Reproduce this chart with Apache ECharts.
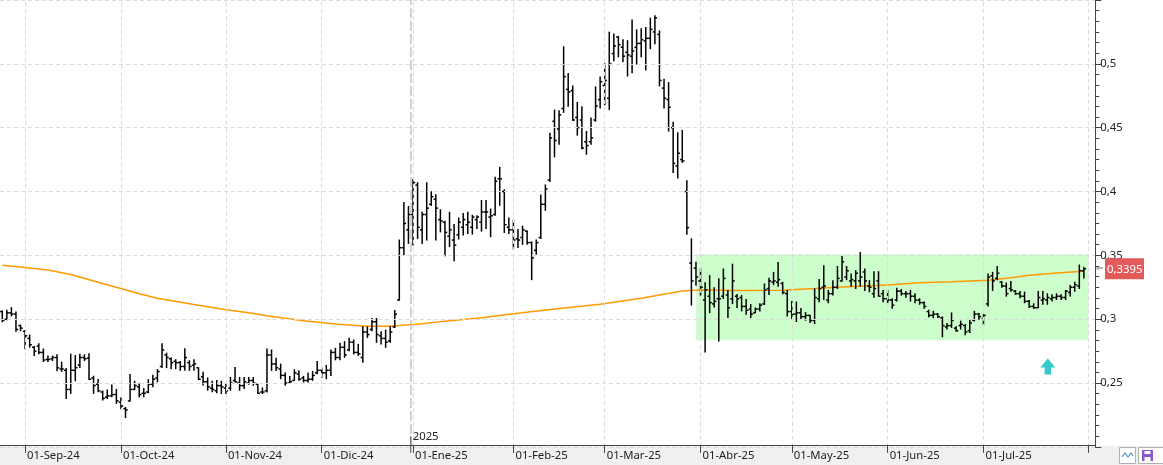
<!DOCTYPE html>
<html>
<head>
<meta charset="utf-8">
<script src="https://cdn.jsdelivr.net/npm/echarts@6/dist/echarts.min.js"></script>
<style>
html,body{margin:0;padding:0;background:#fff;}
#c{width:1163px;height:465px;}
</style>
</head>
<body>
<div id="c"></div>
<script>
// ---------- DATA ----------
const startDate = '2024-08-26';
const endDate = '2025-08-04';
const holidays = ['2024-12-25','2024-12-26','2025-01-01','2025-04-18','2025-04-21','2025-05-01'];
const monthNames = ['Ene','Feb','Mar','Abr','May','Jun','Jul','Ago','Sep','Oct','Nov','Dic'];

const opens = [
.306,.300,.305,.304,.2950,.2905,.2850,.2780,.2790,.2740,
.2685,.2690,.2700,.2610,.2600,.2450,.2600,.2640,.2700,.2695,
.2540,.2490,.2430,.2390,.2400,.2410,.2350,.2300,.2360,.2450,
.2470,.2420,.2430,.2490,.2540,.2630,.2720,.2690,.2670,.2660,
.2630,.2660,.2640,.2620,.2550,.2510,.2460,.2440,.2480,.2460,
.2460,.2520,.2500,.2480,.2500,.2520,.2490,.2430,.2440,.2720,
.2650,.2610,.2560,.2500,.2520,.2570,.2540,.2520,.2530,.2580,
.2600,.2580,.2600,.2740,.2700,.2780,.2760,.2820,.2740,.2700,
.2900,.2920,.2980,.2870,.2850,.2830,.2940,.3150,.3560,.3700,
.3820,.4050,.3700,.3820,.3900,.3940,.3780,.3760,.3650,.3620,
.3660,.3720,.3740,.3720,.3780,.3760,.3840,.3800,.3820,.4100,
.4000,.3720,.3700,.3630,.3640,.3690,.3600,.3540,.3640,.3900,
.4090,.4550,.4490,.4650,.4800,.4790,.4580,.4560,.4390,.4390,
.4560,.4720,.4830,.4730,.5080,.5210,.5130,.5090,.5060,.5130,
.5160,.5180,.5200,.5250,.5230,.4810,.4720,.4500,.4200,.4250,
.4000,.3440,.3400,.3300,.3150,.3180,.3120,.3160,.3180,.3190,
.3160,.3180,.3170,.3100,.3080,.3050,.3080,.3120,.3240,.3290,
.3290,.3280,.3200,.3060,.3040,.3050,.3020,.3030,.2990,.3160,
.3250,.3150,.3200,.3250,.3300,.3330,.3300,.3300,.3300,.3370,
.3260,.3200,.3300,.3200,.3160,.3150,.3150,.3220,.3200,.3200,
.3180,.3150,.3130,.3060,.3030,.3040,.3010,.2940,.2950,.2930,
.2950,.2950,.2910,.2990,.3040,.3000,.3120,.3340,.3320,.3290,
.3260,.3240,.3220,.3200,.3180,.3140,.3100,.3090,.3150,.3150,
.3160,.3170,.3180,.3170,.3210,.3250,.3260,.3380
];
const highs = [
.3069,.3075,.3094,.3061,.2958,.2914,.2880,.2790,.2811,.2770,
.2715,.2715,.2725,.2668,.2617,.2730,.2720,.2730,.2725,.2733,
.2557,.2531,.2441,.2449,.2488,.2454,.2389,.2312,.2570,.2518,
.2497,.2462,.2531,.2565,.2609,.2811,.2738,.2700,.2687,.2673,
.2772,.2679,.2687,.2622,.2588,.2544,.2518,.2523,.2518,.2492,
.2548,.2626,.2548,.2548,.2548,.2548,.2492,.2466,.2771,.2763,
.2698,.2652,.2582,.2556,.2608,.2600,.2556,.2582,.2595,.2673,
.2621,.2642,.2763,.2776,.2815,.2828,.2854,.2841,.2807,.2944,
.2944,.3009,.3009,.2905,.2918,.2944,.3073,.3624,.3918,.3887,
.4099,.4073,.3841,.4073,.4003,.3978,.3861,.3771,.3841,.3746,
.3797,.3831,.3841,.3818,.3815,.3934,.3934,.3867,.4115,.4193,
.4017,.3797,.3779,.3707,.3733,.3694,.3609,.3624,.3976,.4056,
.4461,.4642,.4637,.5138,.4929,.4831,.4702,.4668,.4474,.4580,
.4823,.4901,.5004,.5252,.5237,.5219,.5193,.5185,.5348,.5270,
.5278,.5288,.5361,.5381,.5262,.4883,.4857,.4547,.4464,.4482,
.4089,.3634,.3450,.3402,.3290,.3345,.3250,.3320,.3397,.3229,
.3435,.3198,.3190,.3159,.3118,.3092,.3125,.3280,.3324,.3371,
.3448,.3293,.3229,.3143,.3138,.3087,.3056,.3035,.3242,.3314,
.3423,.3229,.3306,.3417,.3500,.3417,.3358,.3384,.3526,.3397,
.3306,.3376,.3376,.3229,.3229,.3164,.3247,.3237,.3221,.3229,
.3203,.3164,.3138,.3074,.3066,.3048,.3022,.2970,.3053,.2945,
.2989,.2963,.2996,.3066,.3048,.3040,.3358,.3371,.3417,.3299,
.3288,.3299,.3229,.3221,.3216,.3151,.3125,.3221,.3221,.3203,
.3195,.3203,.3195,.3229,.3268,.3293,.3428,.3410
];
const lows = [
.2976,.2991,.3022,.2901,.2906,.2764,.2777,.2712,.2725,.2665,
.2665,.2673,.2592,.2588,.2376,.2415,.2514,.2617,.2673,.2525,
.2415,.2428,.2363,.2376,.2389,.2337,.2294,.2226,.2355,.2445,
.2389,.2389,.2420,.2467,.2506,.2617,.2617,.2609,.2609,.2596,
.2596,.2596,.2596,.2523,.2480,.2441,.2428,.2420,.2414,.2415,
.2440,.2505,.2440,.2453,.2487,.2479,.2414,.2414,.2427,.2595,
.2595,.2530,.2479,.2492,.2518,.2518,.2505,.2505,.2518,.2569,
.2543,.2530,.2556,.2678,.2678,.2698,.2750,.2724,.2712,.2660,
.2854,.2905,.2815,.2802,.2776,.2815,.2931,.3145,.3500,.3590,
.3577,.3629,.3590,.3616,.3887,.3616,.3680,.3494,.3565,.3454,
.3624,.3655,.3668,.3663,.3707,.3686,.3707,.3642,.3810,.3888,
.3676,.3668,.3547,.3557,.3583,.3583,.3306,.3505,.3629,.3849,
.4074,.4268,.4366,.4616,.4663,.4554,.4438,.4332,.4288,.4366,
.4547,.4650,.4676,.4637,.5020,.5051,.5012,.4901,.4927,.4994,
.5051,.4947,.5115,.5154,.4823,.4650,.4469,.4146,.4102,.4224,
.3661,.3107,.3262,.3185,.2740,.3048,.3092,.2825,.3159,.3009,
.3118,.3087,.3061,.3035,.3009,.3048,.3061,.3112,.3190,.3267,
.3255,.3195,.3022,.2996,.2978,.2996,.2988,.2970,.2962,.3133,
.3151,.3125,.3185,.3237,.3293,.3306,.3255,.3237,.3255,.3221,
.3211,.3169,.3177,.3133,.3125,.3082,.3138,.3185,.3169,.3138,
.3125,.3113,.3082,.3014,.3009,.3009,.2859,.2919,.2932,.2901,
.2919,.2875,.2893,.2983,.2996,.2952,.3100,.3221,.3306,.3247,
.3177,.3216,.3190,.3164,.3125,.3087,.3082,.3087,.3113,.3113,
.3138,.3151,.3151,.3151,.3177,.3216,.3237,.3319
];
const closes = [
.299,.305,.304,.292,.2930,.2870,.2800,.2750,.2740,.2680,
.2685,.2700,.2620,.2610,.2450,.2600,.2620,.2700,.2690,.2530,
.2480,.2440,.2380,.2400,.2410,.2360,.2320,.2290,.2450,.2480,
.2410,.2420,.2490,.2530,.2590,.2760,.2700,.2660,.2660,.2630,
.2700,.2630,.2650,.2530,.2510,.2470,.2450,.2480,.2470,.2440,
.2500,.2510,.2480,.2510,.2520,.2500,.2420,.2430,.2720,.2650,
.2620,.2560,.2500,.2510,.2580,.2530,.2520,.2530,.2560,.2600,
.2580,.2600,.2740,.2700,.2780,.2720,.2820,.2740,.2730,.2900,
.2880,.2980,.2880,.2850,.2820,.2900,.3040,.3560,.3750,.3820,
.4070,.3720,.3820,.3870,.3960,.3870,.3770,.3680,.3700,.3580,
.3760,.3780,.3760,.3800,.3800,.3840,.3840,.3810,.4080,.4100,
.3740,.3700,.3620,.3620,.3700,.3600,.3480,.3600,.3900,.4020,
.4420,.4400,.4600,.4900,.4780,.4560,.4500,.4340,.4360,.4420,
.4670,.4860,.4870,.5000,.5140,.5150,.5060,.5070,.5100,.5160,
.5190,.5200,.5270,.5360,.4870,.4730,.4660,.4220,.4300,.4240,
.3717,.3300,.3330,.3250,.3230,.3130,.3140,.3160,.3320,.3090,
.3300,.3160,.3100,.3070,.3040,.3080,.3110,.3230,.3300,.3300,
.3310,.3210,.3060,.3040,.3050,.3020,.3030,.2990,.3170,.3240,
.3260,.3200,.3250,.3320,.3450,.3380,.3310,.3360,.3330,.3300,
.3250,.3240,.3180,.3160,.3150,.3110,.3220,.3200,.3200,.3180,
.3150,.3130,.3100,.3030,.3040,.3020,.2950,.2950,.2990,.2910,
.2960,.2900,.2970,.3040,.3020,.3030,.3330,.3300,.3360,.3260,
.3200,.3230,.3200,.3180,.3140,.3100,.3090,.3170,.3160,.3170,
.3170,.3180,.3170,.3220,.3250,.3270,.3380,.3395
];
// moving average (read at sampled bars)
const maIdx = [0,4,10,15,20,26,30,34,42,49,54,58,66,73,80,84,87,92,97,105,112,121,131,140,149,153,162,171,178,185,190,194,201,208,216,221,225,231,237];
const maVal = [.3422,.3409,.3385,.3350,.3300,.3241,.3200,.3164,.3115,.3074,.3050,.3027,.2988,.2962,.2944,.2944,.2950,.2965,.2985,.3012,.3043,.3080,.3117,.3165,.3221,.3229,.3225,.3226,.3240,.3255,.3262,.3268,.3285,.3293,.3306,.3325,.3345,.3362,.3376];
// zone and arrow annotation (bar index / price)
const zoneX = [152, 238];
const zoneY = [0.3508, 0.2836];
const arrowAt = [229.1, 0.2629];
const yTicks = {min:0.2, max:0.55, step:0.05};

// ---------- BUILD ----------
const FONT = '"Noto Sans", "DejaVu Sans", sans-serif';
const FS = 11.3;
const dates = [];
{
  const hol = new Set(holidays);
  let d = new Date(startDate + 'T00:00:00Z');
  const e = new Date(endDate + 'T00:00:00Z');
  while (d <= e) {
    const wd = d.getUTCDay();
    const s = d.toISOString().slice(0,10);
    if (wd !== 0 && wd !== 6 && !hol.has(s)) dates.push(s);
    d = new Date(d.getTime() + 86400000);
  }
}
const monthStarts = [];
let yearIdx = null;
for (let i = 1; i < dates.length; i++) {
  if (dates[i].slice(5,7) !== dates[i-1].slice(5,7)) monthStarts.push(i);
  if (dates[i].slice(0,4) !== dates[i-1].slice(0,4)) yearIdx = i - 0.5;
}
const tickSet = new Set(monthStarts);
const labelSet = new Set(monthStarts.filter(i => i < closes.length));

const ohlc = closes.map((c, i) => [i, opens[i], c, lows[i], highs[i]]);
const maData = maIdx.map((i, k) => [i, maVal[k]]);

const fmtNum = v => (Math.round(v*10000)/10000).toString().replace('.', ',');

const chart = echarts.init(document.getElementById('c'), null, {renderer:'canvas'});

const option = {
  animation:false,
  backgroundColor:'#ffffff',
  grid:{left:-2.5, right:67.7, top:-5.3, bottom:18.1, containLabel:false},
  xAxis:[{
    type:'category', data:dates, boundaryGap:true, offset:-2, z:5,
    axisLine:{onZero:false, lineStyle:{color:'#444', width:1}},
    axisTick:{show:true, alignWithLabel:true, interval:(i)=>tickSet.has(i), length:8, lineStyle:{color:'#444'}},
    axisLabel:{interval:(i)=>labelSet.has(i), align:'left', margin:5, padding:[0,0,0,2],
      color:'#222', fontSize:FS, fontFamily:FONT,
      formatter:(v)=>'01-' + monthNames[+v.slice(5,7)-1] + '-' + v.slice(2,4)},
    splitLine:{show:false}
  },{
    type:'value', min:-0.5, max:dates.length-0.5, show:false,
    axisLine:{onZero:false}
  }],
  yAxis:{
    type:'value', position:'right', min:yTicks.min, max:yTicks.max, interval:yTicks.step, z:5,
    axisLine:{show:true, onZero:false, lineStyle:{color:'#444'}},
    axisTick:{show:true, length:6, lineStyle:{color:'#444'}},
    minorTick:{show:true, splitNumber:6, length:4, lineStyle:{color:'#444'}},
    axisLabel:{margin:5, color:'#222', fontSize:FS, fontFamily:FONT, showMinLabel:false, showMaxLabel:false,
      formatter:(v)=>fmtNum(v)},
    splitLine:{show:true, lineStyle:{color:'#dcdcdc', type:[4,3]}}
  },
  series:[
    {
      type:'line', xAxisIndex:1, data:[], z:1, silent:true,
      markArea:{silent:true, itemStyle:{color:'rgba(0,255,0,0.2)'},
        data:[[{xAxis:zoneX[0], yAxis:zoneY[0]},{xAxis:zoneX[1], yAxis:zoneY[1]}]]},
      markLine:{silent:true, symbol:['none','none'], label:{show:false},
        lineStyle:{color:'#dcdcdc', type:[4,3], width:1},
        data: monthStarts.map(i=>({xAxis:i})).concat([{xAxis:yearIdx, lineStyle:{color:'#c4c4c4', type:[10,3], width:1.5}}])}
    },
    {
      type:'line', xAxisIndex:1, data:maData, symbol:'none', z:2, silent:true,
      lineStyle:{color:'#ff9900', width:1.5}
    },
    {
      type:'custom', xAxisIndex:0, data:ohlc, z:3, silent:true,
      encode:{x:0, y:[1,2,3,4]},
      renderItem:(params, api) => {
        const i = api.value(0);
        const hi = api.coord([i, api.value(4)]);
        const lo = api.coord([i, api.value(3)]);
        const op = api.coord([i, api.value(1)]);
        const cl = api.coord([i, api.value(2)]);
        const x = hi[0];
        const st = {stroke:'#000', lineWidth:1.5};
        return {type:'group', children:[
          {type:'line', shape:{x1:x, y1:hi[1], x2:x, y2:lo[1]}, style:st},
          {type:'line', shape:{x1:x-2.2, y1:op[1], x2:x, y2:op[1]}, style:st},
          {type:'line', shape:{x1:x, y1:cl[1], x2:x+2.2, y2:cl[1]}, style:st}
        ]};
      }
    },
    {
      type:'line', xAxisIndex:1, data:[], z:4, silent:true,
      markPoint:{silent:true, label:{show:false},
        data:[{coord:arrowAt, symbol:'path://M7,0 L14,9 L10,9 L10,16 L4,16 L4,9 L0,9 Z', symbolSize:[15,16], itemStyle:{color:'#36c9c9'}}]}
    }
  ]
};
chart.setOption(option);

// overlays positioned through the chart's own scales
const lastClose = closes[closes.length-1];
const py = chart.convertToPixel({yAxisIndex:0}, lastClose);
const yx = chart.convertToPixel({xAxisIndex:1}, yearIdx);
chart.setOption({graphic:[
  {type:'rect', z:0, shape:{x:0, y:446, width:1163, height:19}, style:{fill:'#f0f0f0'}},
  {type:'line', z:10, shape:{x1:yx, y1:436, x2:yx, y2:453}, style:{stroke:'#555', lineWidth:1}},
  {type:'text', z:10, x:yx+2, y:437, style:{text:'2025', fill:'#222', font:FS + 'px ' + FONT, verticalAlign:'middle'}},
  {type:'rect', z:10, shape:{x:1105, y:py-10.5, width:39, height:21}, style:{fill:'#e35a5a'}},
  {type:'text', z:11, x:1107, y:py+0.5, style:{text:fmtNum(lastClose), fill:'#fff', font:FS + 'px ' + FONT, verticalAlign:'middle'}},
  {type:'text', z:11, x:1096, y:py, style:{text:'⇐', fill:'#777', font:'9px ' + FONT, verticalAlign:'middle'}},
  {type:'rect', z:10, shape:{x:1119.5, y:447.5, width:16, height:16}, style:{fill:'#fff', stroke:'#b0b0b0', lineWidth:1}},
  {type:'polyline', z:11, shape:{points:[[1122,457],[1125,453],[1128,457],[1131,453],[1133,456]]}, style:{stroke:'#5b8fd0', lineWidth:1.2, fill:null}},
  {type:'rect', z:10, shape:{x:1138.5, y:447.5, width:26, height:16}, style:{fill:'#fff', stroke:'#b0b0b0', lineWidth:1}},
  {type:'rect', z:11, shape:{x:1142, y:450, width:11, height:11}, style:{fill:'#8a58c8'}},
  {type:'rect', z:12, shape:{x:1144.5, y:451, width:6, height:3}, style:{fill:'#fff'}},
  {type:'rect', z:12, shape:{x:1144.5, y:457, width:6, height:4}, style:{fill:'#fff'}}
]});
</script>
</body>
</html>
